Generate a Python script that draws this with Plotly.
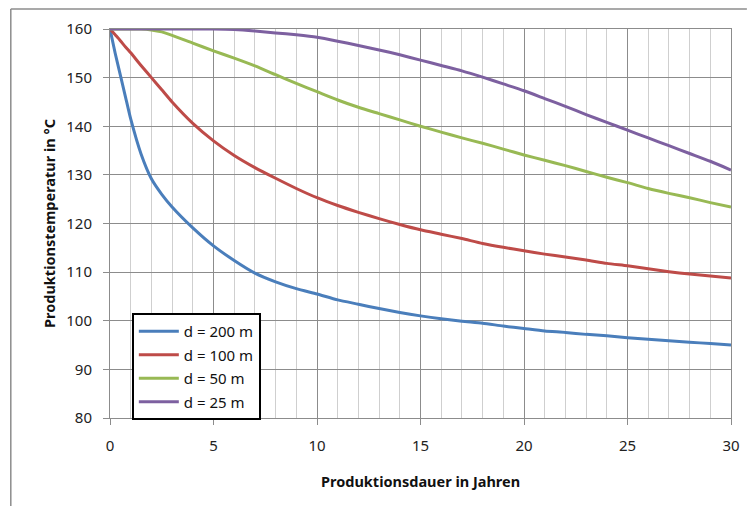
import plotly.graph_objects as go

years = [0, 0.25, 0.5, 0.75, 1, 1.5, 2, 2.5, 3, 4, 5, 6, 7, 8, 9, 10, 11, 12, 13, 14, 15,
         16, 17, 18, 19, 20, 21, 22, 23, 24, 25, 26, 27, 28, 29, 30]

d200 = [160, 155.0, 150.5, 146.0, 141.5, 134.3, 129.2, 126.0, 123.4, 119.1, 115.4, 112.4,
        109.8, 108.0, 106.6, 105.5, 104.3, 103.4, 102.5, 101.7, 101.0, 100.4, 99.9, 99.5,
        98.9, 98.4, 97.9, 97.6, 97.2, 96.9, 96.5, 96.2, 95.9, 95.6, 95.3, 95.0]

d100 = [160, 158.8, 157.6, 156.3, 155.1, 152.5, 150.0, 147.5, 145.0, 140.6, 137.0, 134.0,
        131.5, 129.3, 127.2, 125.3, 123.7, 122.3, 121.0, 119.8, 118.7, 117.8, 116.9, 115.9,
        115.1, 114.4, 113.7, 113.1, 112.5, 111.8, 111.3, 110.7, 110.1, 109.6, 109.2, 108.8]

d50 = [160, 160, 160, 160, 160, 160, 159.8, 159.4, 158.7, 157.1, 155.5, 154.0,
       152.4, 150.6, 148.8, 147.1, 145.4, 143.9, 142.6, 141.3, 140.0, 138.8, 137.6, 136.5,
       135.3, 134.1, 133.0, 131.9, 130.7, 129.5, 128.4, 127.2, 126.2, 125.3, 124.3, 123.4]

d25 = [160, 160, 160, 160, 160, 160, 160, 160, 160, 160, 160, 159.9,
       159.6, 159.2, 158.8, 158.3, 157.5, 156.6, 155.7, 154.7, 153.6, 152.5, 151.4, 150.1,
       148.7, 147.3, 145.7, 144.1, 142.4, 140.8, 139.2, 137.6, 136.0, 134.4, 132.8, 131.0]

series_names = ["d = 200 m", "d = 100 m", "d = 50 m", "d = 25 m"]
series_values = [d200, d100, d50, d25]
series_colors = ["#4A7EBB", "#BE4B48", "#98B954", "#7D60A0"]

x_ticks = [0, 5, 10, 15, 20, 25, 30]
y_ticks = [80, 90, 100, 110, 120, 130, 140, 150, 160]

FONT = "Noto Sans"

fig = go.Figure()
for i, (name, vals, col) in enumerate(zip(series_names, series_values, series_colors)):
    fig.add_trace(go.Scatter(
        x=years, y=vals, name=name, mode="lines",
        line=dict(color=col, width=3, shape="spline", smoothing=0.6),
        cliponaxis=False, legendgroup="g%d" % i,
    ))

W, H = 752, 506
ml, mr, mt, mb = 110, 16, 29, 88
pw, ph = W - ml - mr, H - mt - mb

def px(x):
    return (x - ml) / pw

def py(y):
    return (H - mb - y) / ph

fig.update_layout(
    width=W, height=H, autosize=False,
    margin=dict(l=ml, r=mr, t=mt, b=mb, pad=0),
    paper_bgcolor="white", plot_bgcolor="white",
    font=dict(family=FONT, size=15, color="#222222"),
    showlegend=True,
    legend=dict(
        x=px(132), y=py(313), xanchor="left", yanchor="top",
        bordercolor="black", borderwidth=2, bgcolor="white",
        font=dict(family=FONT, size=15, color="#111111"),
        tracegroupgap=1, itemwidth=40,
    ),
    xaxis=dict(
        range=[0, 30], tickvals=x_ticks, ticktext=[str(v) for v in x_ticks],
        showgrid=True, gridcolor="#8c8c8c", gridwidth=1,
        minor=dict(dtick=1, showgrid=True, gridcolor="#cfcfcf", gridwidth=1),
        showline=True, linecolor="#8c8c8c", linewidth=1, mirror=True,
        ticks="outside", ticklen=6, tickcolor="#8c8c8c",
        ticklabelstandoff=8, zeroline=False,
        tickfont=dict(family=FONT, size=15, color="#222222"),
    ),
    yaxis=dict(
        range=[80, 160], tickvals=y_ticks, ticktext=[str(v) for v in y_ticks],
        showgrid=True, gridcolor="#8c8c8c", gridwidth=1,
        showline=True, linecolor="#8c8c8c", linewidth=1, mirror=True,
        ticks="outside", ticklen=6, tickcolor="#8c8c8c",
        ticklabelstandoff=8, zeroline=False,
        tickfont=dict(family=FONT, size=15, color="#222222"),
    ),
    annotations=[
        dict(text="<b>Produktionsdauer in Jahren</b>", xref="paper", yref="paper",
             x=px(423), y=py(481), xanchor="center", yanchor="middle", showarrow=False,
             font=dict(family=FONT, size=14.5, color="#111111")),
        dict(text="<b>Produktionstemperatur in °C</b>", xref="paper", yref="paper",
             x=px(48), y=0.5, xanchor="center", yanchor="middle", showarrow=False,
             textangle=-90, font=dict(family=FONT, size=14.5, color="#111111")),
    ],
    shapes=[
        dict(type="line", xref="paper", yref="paper", x0=px(10), x1=px(10),
             y0=py(9), y1=py(506), line=dict(color="#8c8c8c", width=1.5)),
        dict(type="line", xref="paper", yref="paper", x0=px(10), x1=px(752),
             y0=py(9), y1=py(9), line=dict(color="#8c8c8c", width=1.5)),
    ],
)

fig.write_html(
    "out.html",
    config={"displayModeBar": False, "responsive": False},
    post_script="document.body.style.margin='0';document.body.style.overflow='hidden';",
)
